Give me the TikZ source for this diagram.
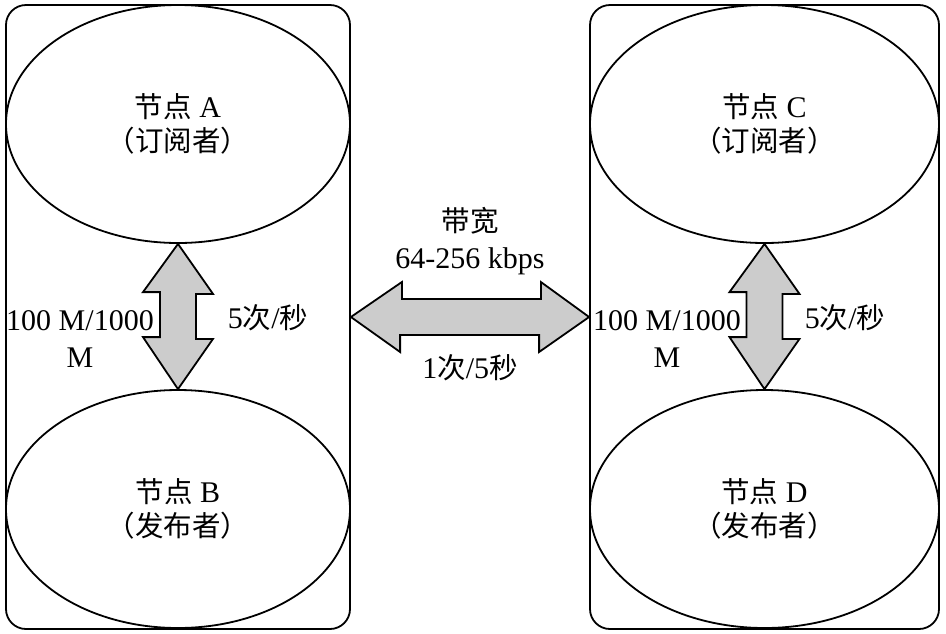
\documentclass[tikz,border=0pt]{standalone}
\usepackage{fontspec}
\setmainfont{Liberation Serif}
\newfontfamily\cjk{Noto Sans CJK SC}[Scale=0.95]
\usetikzlibrary{shapes.geometric}
\tikzset{
  box/.style={draw, line width=1.8pt, rounded corners=20pt, inner sep=0pt},
  ell/.style={draw, line width=1.8pt, ellipse, inner sep=0pt, align=center, font=\fontsize{30}{34}\selectfont},
  arr/.style={draw, line width=1.8pt, fill=black!20, line join=miter},
  lbl/.style={inner sep=0pt, align=center, font=\fontsize{30}{37}\selectfont},
}
\begin{document}
\begin{tikzpicture}[x=1pt,y=-1pt]
\useasboundingbox (0,0) rectangle (946,633);
% containers
\node[box, minimum width=344pt, minimum height=624pt] (L) at (178,317) {};
\node[box, minimum width=349pt, minimum height=624pt] (R) at (764.5,317) {};
% nodes
\node[ell, minimum width=344pt, minimum height=238pt] (A) at (178,124) {{\cjk 节点} A\\{\cjk （订阅者）}};
\node[ell, minimum width=344pt, minimum height=238pt] (B) at (178,509) {{\cjk 节点} B\\{\cjk （发布者）}};
\node[ell, minimum width=349pt, minimum height=238pt] (C) at (764.5,124) {{\cjk 节点} C\\{\cjk （订阅者）}};
\node[ell, minimum width=349pt, minimum height=238pt] (D) at (764.5,509) {{\cjk 节点} D\\{\cjk （发布者）}};
% vertical arrows
\draw[arr] (A.south) -- ++(35,50) -- ++(-17,0) -- ++(0,45) -- ++(17,0) -- (B.north)
  -- ++(-35,-52) -- ++(17,0) -- ++(0,-45) -- ++(-17,0) -- cycle;
\draw[arr] (C.south) -- ++(35,50) -- ++(-17,0) -- ++(0,45) -- ++(17,0) -- (D.north)
  -- ++(-35,-52) -- ++(17,0) -- ++(0,-45) -- ++(-17,0) -- cycle;
% horizontal arrow
\draw[arr] (L.east) -- ++(51,-35) -- ++(0,17) -- ++(139,0) -- ++(0,-17) -- (R.west)
  -- ++(-50,35) -- ++(0,-17) -- ++(-139,0) -- ++(0,17) -- cycle;
% labels
\node[lbl] (bw) at (470,241) {{\cjk 带宽}\\64-256 kbps};
\node[lbl] (f1) at (470,368) {1{\cjk 次}/5{\cjk 秒}};
\node[lbl] (r1) at (80,339) {100 M/1000\\M};
\node[lbl] (f2) at (268,318) {5{\cjk 次}/{\cjk 秒}};
\node[lbl] (r2) at (667,339) {100 M/1000\\M};
\node[lbl] (f3) at (845,318) {5{\cjk 次}/{\cjk 秒}};
\end{tikzpicture}
\end{document}
